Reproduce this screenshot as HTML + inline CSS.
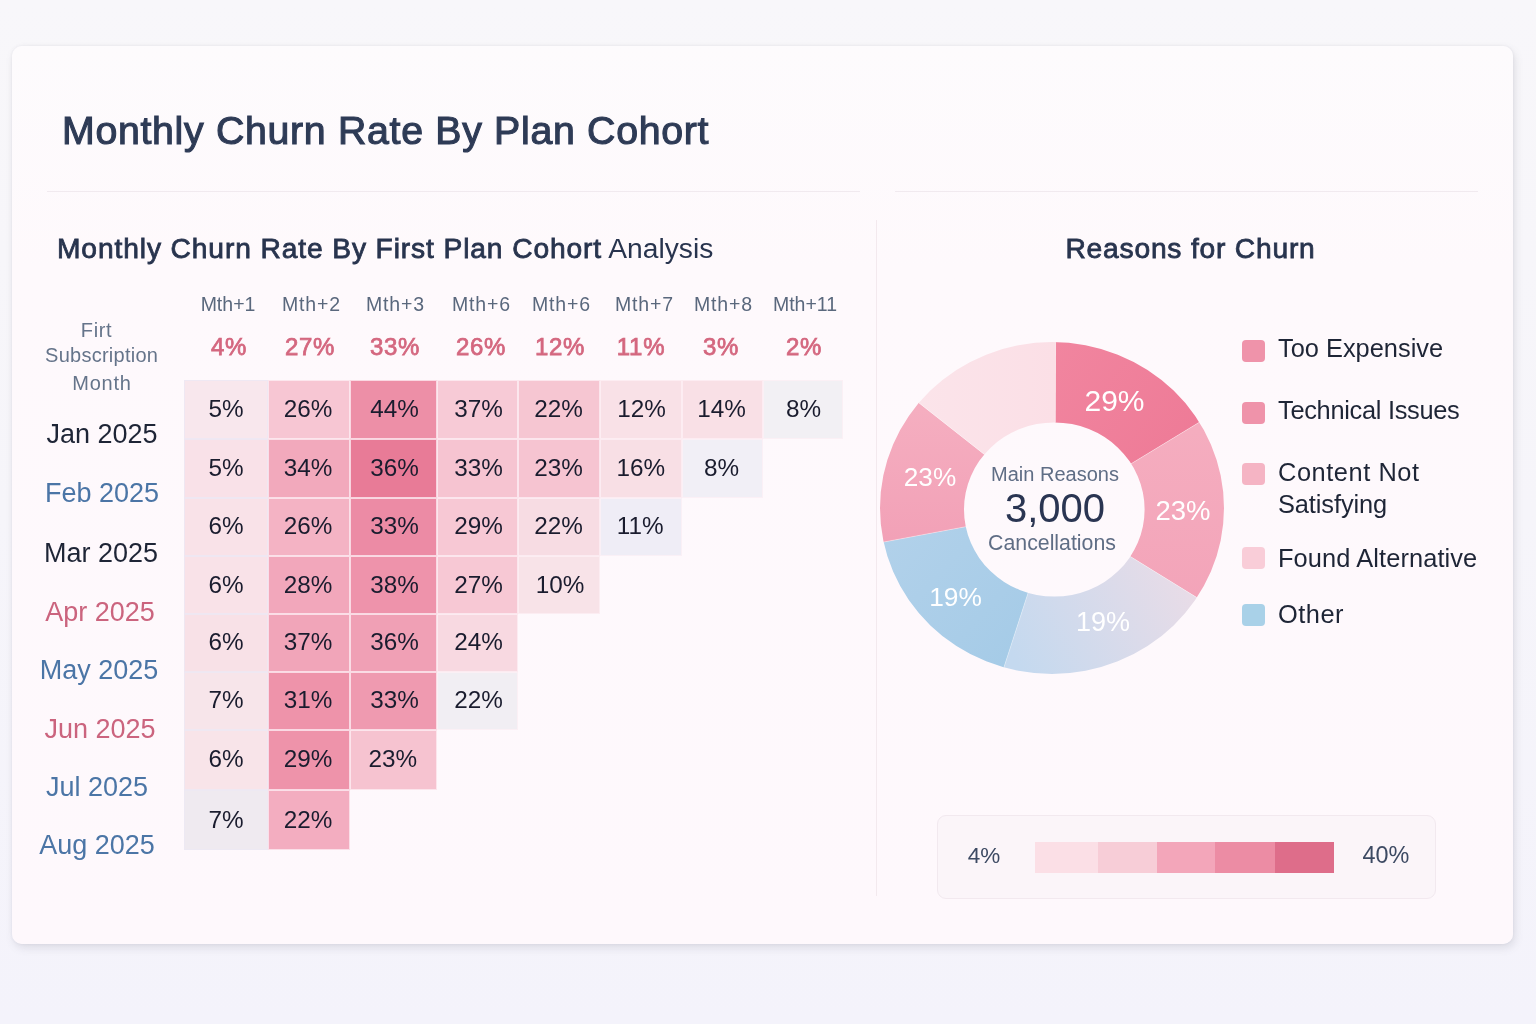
<!DOCTYPE html>
<html lang="en"><head><meta charset="utf-8"><title>Monthly Churn Rate By Plan Cohort</title>
<style>
html,body{margin:0;padding:0}
body{width:1536px;height:1024px;overflow:hidden;position:relative;font-family:"Liberation Sans",sans-serif;
background:linear-gradient(180deg,#f8f7fa 0%,#f6f5fa 50%,#f4f3fb 100%);}
.card{position:absolute;left:12px;top:46px;width:1501px;height:898px;background:linear-gradient(180deg,#fdfbfd 0%,#fef9fc 25%,#fef8fc 100%);border-radius:10px;
box-shadow:2px 4px 9px rgba(100,98,120,.16),0 0 3px rgba(100,98,120,.10);}
.t{position:absolute;transform:translate(-50%,-50%);white-space:nowrap;line-height:1}
.l{position:absolute;transform:translate(0,-50%);white-space:nowrap;line-height:1}
.hr{position:absolute;height:1px;background:#f1eaef}
.vr{position:absolute;width:1px;background:#f3e9ee}
.c{position:absolute;box-sizing:border-box;border:1px solid rgba(254,240,245,.75)}
.c1{border-color:rgba(236,232,244,.8)}
.h{font-size:19.5px;color:#5a687d}
.p{font-size:24px;letter-spacing:.7px;-webkit-text-stroke:.75px #d4677f;color:#d4677f}
.v{font-size:24.3px;color:#1a1c2e}
.r{font-size:27px}
.dk{color:#1e2536}.bl{color:#4b75a6}.pk{color:#cb647e}
.d{font-size:30px;color:#fff}
.sq{position:absolute;width:23px;height:22px;border-radius:4px}
.lg{font-size:25.4px;color:#1e2536}
</style></head><body>
<div class="card"></div>

<div class="l" id="title" style="left:62px;top:130.5px;font-size:39.3px;letter-spacing:.68px;-webkit-text-stroke:1.1px #2e3b56;color:#2e3b56">Monthly Churn Rate By Plan Cohort</div>
<div class="hr" style="left:47px;top:191px;width:813px"></div>
<div class="hr" style="left:895px;top:191px;width:583px"></div>
<div class="vr" style="left:876px;top:220px;height:676px"></div>
<div class="l" id="sub" style="left:57px;top:248px;font-size:28.2px;color:#28344e"><span id="subb" style="letter-spacing:.88px;-webkit-text-stroke:.8px #28344e">Monthly Churn Rate By First Plan Cohort</span> Analysis</div>
<div class="t" id="rfc" style="left:1190.5px;top:248px;font-size:28.2px;letter-spacing:.8px;-webkit-text-stroke:.8px #28344e;color:#28344e">Reasons for Churn</div>
<div class="t h" style="left:228px;top:305px">Mth+1</div>
<div class="t h" style="left:311.5px;top:305px;letter-spacing:.9px">Mth+2</div>
<div class="t h" style="left:395.5px;top:305px;letter-spacing:.9px">Mth+3</div>
<div class="t h" style="left:481.5px;top:305px;letter-spacing:.9px">Mth+6</div>
<div class="t h" style="left:561.5px;top:305px;letter-spacing:.9px">Mth+6</div>
<div class="t h" style="left:644.5px;top:305px;letter-spacing:.9px">Mth+7</div>
<div class="t h" style="left:723.5px;top:305px;letter-spacing:.9px">Mth+8</div>
<div class="t h" style="left:805px;top:305px">Mth+11</div>
<div class="t p" style="left:229px;top:347px">4%</div>
<div class="t p" style="left:310px;top:347px">27%</div>
<div class="t p" style="left:395px;top:347px">33%</div>
<div class="t p" style="left:481px;top:347px">26%</div>
<div class="t p" style="left:560px;top:347px">12%</div>
<div class="t p" style="left:641px;top:347px">11%</div>
<div class="t p" style="left:721px;top:347px">3%</div>
<div class="t p" style="left:804px;top:347px">2%</div>
<div class="t" style="left:96.5px;top:330px;font-size:20px;letter-spacing:0.6px;color:#65748a">Firt</div>
<div class="t" style="left:101.6px;top:355px;font-size:20px;letter-spacing:0.25px;color:#65748a">Subscription</div>
<div class="t" style="left:102px;top:383px;font-size:20px;letter-spacing:0.8px;color:#65748a">Month</div>
<div class="t r dk" style="left:102px;top:434px">Jan 2025</div>
<div class="t r bl" style="left:102px;top:493px">Feb 2025</div>
<div class="t r dk" style="left:101px;top:553px">Mar 2025</div>
<div class="t r pk" style="left:100px;top:612px">Apr 2025</div>
<div class="t r bl" style="left:99px;top:670px">May 2025</div>
<div class="t r pk" style="left:100px;top:729px">Jun 2025</div>
<div class="t r bl" style="left:97px;top:787px">Jul 2025</div>
<div class="t r bl" style="left:97px;top:845px">Aug 2025</div>
<div class="c c1" style="left:184px;top:380px;width:83.5px;height:58.5px;background:#f8e7ed"></div>
<div class="t v" style="left:226px;top:408.8px">5%</div>
<div class="c" style="left:267.5px;top:380px;width:82.5px;height:58.5px;background:#f7c6d3"></div>
<div class="t v" style="left:308px;top:408.8px">26%</div>
<div class="c" style="left:350px;top:380px;width:86.5px;height:58.5px;background:#ed8fa7"></div>
<div class="t v" style="left:394.5px;top:408.8px">44%</div>
<div class="c" style="left:436.5px;top:380px;width:81.5px;height:58.5px;background:#f7cad6"></div>
<div class="t v" style="left:478.5px;top:408.8px">37%</div>
<div class="c" style="left:518px;top:380px;width:82px;height:58.5px;background:#f6c6d2"></div>
<div class="t v" style="left:558.5px;top:408.8px">22%</div>
<div class="c" style="left:600px;top:380px;width:82px;height:58.5px;background:#f9e1e7"></div>
<div class="t v" style="left:641.5px;top:408.8px">12%</div>
<div class="c" style="left:682px;top:380px;width:80.5px;height:58.5px;background:#f9e0e6"></div>
<div class="t v" style="left:721.5px;top:408.8px">14%</div>
<div class="c" style="left:762.5px;top:380px;width:80.5px;height:58.5px;background:#f2f0f4"></div>
<div class="t v" style="left:803.5px;top:408.8px">8%</div>
<div class="c c1" style="left:184px;top:438.5px;width:83.5px;height:59.0px;background:#f9e1e8"></div>
<div class="t v" style="left:226px;top:467.5px">5%</div>
<div class="c" style="left:267.5px;top:438.5px;width:82.5px;height:59.0px;background:#f2a9bc"></div>
<div class="t v" style="left:308px;top:467.5px">34%</div>
<div class="c" style="left:350px;top:438.5px;width:86.5px;height:59.0px;background:#e87b97"></div>
<div class="t v" style="left:394.5px;top:467.5px">36%</div>
<div class="c" style="left:436.5px;top:438.5px;width:81.5px;height:59.0px;background:#f6c4d1"></div>
<div class="t v" style="left:478.5px;top:467.5px">33%</div>
<div class="c" style="left:518px;top:438.5px;width:82px;height:59.0px;background:#f6c4d1"></div>
<div class="t v" style="left:558.5px;top:467.5px">23%</div>
<div class="c" style="left:600px;top:438.5px;width:82px;height:59.0px;background:#f8dfe5"></div>
<div class="t v" style="left:640.8px;top:467.5px">16%</div>
<div class="c" style="left:682px;top:438.5px;width:80.5px;height:59.0px;background:#f1eff6"></div>
<div class="t v" style="left:721.5px;top:467.5px">8%</div>
<div class="c c1" style="left:184px;top:497.5px;width:83.5px;height:58.5px;background:#f9e2e8"></div>
<div class="t v" style="left:226px;top:526.2px">6%</div>
<div class="c" style="left:267.5px;top:497.5px;width:82.5px;height:58.5px;background:#f4b3c4"></div>
<div class="t v" style="left:308px;top:526.2px">26%</div>
<div class="c" style="left:350px;top:497.5px;width:86.5px;height:58.5px;background:#ec8ba5"></div>
<div class="t v" style="left:394.5px;top:526.2px">33%</div>
<div class="c" style="left:436.5px;top:497.5px;width:81.5px;height:58.5px;background:#f7c8d4"></div>
<div class="t v" style="left:478.5px;top:526.2px">29%</div>
<div class="c" style="left:518px;top:497.5px;width:82px;height:58.5px;background:#f7dce3"></div>
<div class="t v" style="left:558.5px;top:526.2px">22%</div>
<div class="c" style="left:600px;top:497.5px;width:82px;height:58.5px;background:#efedf6"></div>
<div class="t v" style="left:640.2px;top:526.2px">11%</div>
<div class="c c1" style="left:184px;top:556px;width:83.5px;height:58px;background:#f9e2e8"></div>
<div class="t v" style="left:226px;top:584.5px">6%</div>
<div class="c" style="left:267.5px;top:556px;width:82.5px;height:58px;background:#f2a7bb"></div>
<div class="t v" style="left:308px;top:584.5px">28%</div>
<div class="c" style="left:350px;top:556px;width:86.5px;height:58px;background:#ee93ab"></div>
<div class="t v" style="left:394.5px;top:584.5px">38%</div>
<div class="c" style="left:436.5px;top:556px;width:81.5px;height:58px;background:#f7c8d4"></div>
<div class="t v" style="left:478.5px;top:584.5px">27%</div>
<div class="c" style="left:518px;top:556px;width:82px;height:58px;background:#f8e3e8"></div>
<div class="t v" style="left:560.0px;top:584.5px">10%</div>
<div class="c c1" style="left:184px;top:614px;width:83.5px;height:57.5px;background:#f8e1e7"></div>
<div class="t v" style="left:226px;top:642.2px">6%</div>
<div class="c" style="left:267.5px;top:614px;width:82.5px;height:57.5px;background:#f1a5b9"></div>
<div class="t v" style="left:308px;top:642.2px">37%</div>
<div class="c" style="left:350px;top:614px;width:86.5px;height:57.5px;background:#f0a0b5"></div>
<div class="t v" style="left:394.5px;top:642.2px">36%</div>
<div class="c" style="left:436.5px;top:614px;width:81.5px;height:57.5px;background:#f8d9e1"></div>
<div class="t v" style="left:478.5px;top:642.2px">24%</div>
<div class="c c1" style="left:184px;top:671.5px;width:83.5px;height:58.5px;background:#f7e5ea"></div>
<div class="t v" style="left:226px;top:700.2px">7%</div>
<div class="c" style="left:267.5px;top:671.5px;width:82.5px;height:58.5px;background:#ee93aa"></div>
<div class="t v" style="left:308px;top:700.2px">31%</div>
<div class="c" style="left:350px;top:671.5px;width:86.5px;height:58.5px;background:#ef9ab0"></div>
<div class="t v" style="left:394.5px;top:700.2px">33%</div>
<div class="c" style="left:436.5px;top:671.5px;width:81.5px;height:58.5px;background:#f1eef3"></div>
<div class="t v" style="left:478.5px;top:700.2px">22%</div>
<div class="c c1" style="left:184px;top:730px;width:83.5px;height:59.5px;background:#f8e4e9"></div>
<div class="t v" style="left:226px;top:759.2px">6%</div>
<div class="c" style="left:267.5px;top:730px;width:82.5px;height:59.5px;background:#ee93aa"></div>
<div class="t v" style="left:308px;top:759.2px">29%</div>
<div class="c" style="left:350px;top:730px;width:86.5px;height:59.5px;background:#f6c3d0"></div>
<div class="t v" style="left:392.8px;top:759.2px">23%</div>
<div class="c c1" style="left:184px;top:789.5px;width:83.5px;height:60.5px;background:#efeaf0"></div>
<div class="t v" style="left:226px;top:820.2px">7%</div>
<div class="c" style="left:267.5px;top:789.5px;width:82.5px;height:60.5px;background:#f3adc0"></div>
<div class="t v" style="left:308px;top:820.2px">22%</div>
<svg style="position:absolute;left:0;top:0" width="1536" height="1024" viewBox="0 0 1536 1024">
<defs>
<linearGradient id="g1" gradientUnits="userSpaceOnUse" x1="1056" y1="342" x2="1190" y2="440"><stop offset="0" stop-color="#f1859f"/><stop offset="1" stop-color="#ee7b97"/></linearGradient>
<linearGradient id="g2" gradientUnits="userSpaceOnUse" x1="1180" y1="430" x2="1180" y2="600"><stop offset="0" stop-color="#f5adbf"/><stop offset="1" stop-color="#f3a4b9"/></linearGradient>
<linearGradient id="g3" gradientUnits="userSpaceOnUse" x1="1190" y1="580" x2="1020" y2="670"><stop offset="0" stop-color="#e9dce7"/><stop offset="1" stop-color="#c4d9ef"/></linearGradient>
<linearGradient id="g4" gradientUnits="userSpaceOnUse" x1="890" y1="540" x2="1020" y2="660"><stop offset="0" stop-color="#b1d1ea"/><stop offset="1" stop-color="#a5cbe7"/></linearGradient>
<linearGradient id="g5" gradientUnits="userSpaceOnUse" x1="930" y1="410" x2="930" y2="540"><stop offset="0" stop-color="#f5aec0"/><stop offset="1" stop-color="#f2a1b7"/></linearGradient>
<linearGradient id="g6" gradientUnits="userSpaceOnUse" x1="920" y1="400" x2="1056" y2="400"><stop offset="0" stop-color="#fbe4ea"/><stop offset="1" stop-color="#fbdfe6"/></linearGradient>
<clipPath id="ring"><path clip-rule="evenodd" d="M880 508a172 166 0 1 0 344 0a172 166 0 1 0 -344 0ZM964 509.5a90.3 87 0 1 0 180.6 0a90.3 87 0 1 0 -180.6 0Z"/></clipPath>
</defs>
<g clip-path="url(#ring)">
<polygon points="1055.0,510.0 1055.9,250.0 1099.9,253.9 1142.6,265.2 1182.8,283.6 1219.3,308.5 1251.1,339.3 1277.2,374.9" fill="url(#g1)"/>
<polygon points="1055.0,510.0 1277.2,374.9 1298.1,417.7 1310.8,463.5 1315.0,510.9 1310.5,558.3 1297.4,604.0 1276.2,646.6" fill="url(#g2)"/>
<polygon points="1055.0,510.0 1276.2,646.6 1240.7,692.0 1196.1,728.4 1144.6,754.1 1088.6,767.8 1031.1,768.9 974.7,757.3" fill="url(#g3)"/>
<polygon points="1055.0,510.0 974.7,757.3 932.0,739.1 893.3,713.6 859.7,681.6 832.3,644.2 812.0,602.5 799.4,557.8" fill="url(#g4)"/>
<polygon points="1055.0,510.0 799.4,557.8 795.2,521.2 796.3,484.3 802.5,448.0 813.8,412.9 830.0,379.7 850.7,349.2" fill="url(#g5)"/>
<polygon points="1055.0,510.0 850.7,349.2 877.2,320.3 907.9,295.6 941.8,275.9 978.4,261.5 1016.7,252.8 1055.9,250.0" fill="url(#g6)"/>
<line x1="1055" y1="510" x2="1055.9" y2="250.0" stroke="#fff" stroke-opacity=".35" stroke-width="1"/>
<line x1="1055" y1="510" x2="1277.2" y2="374.9" stroke="#fff" stroke-opacity=".35" stroke-width="1"/>
<line x1="1055" y1="510" x2="1276.2" y2="646.6" stroke="#fff" stroke-opacity=".35" stroke-width="1"/>
<line x1="1055" y1="510" x2="974.7" y2="757.3" stroke="#fff" stroke-opacity=".35" stroke-width="1"/>
<line x1="1055" y1="510" x2="799.4" y2="557.8" stroke="#fff" stroke-opacity=".35" stroke-width="1"/>
<line x1="1055" y1="510" x2="850.7" y2="349.2" stroke="#fff" stroke-opacity=".35" stroke-width="1"/>
</g>
</svg>
<div class="t d" style="left:1114.5px;top:400.5px;font-size:30px">29%</div>
<div class="t d" style="left:1183px;top:511px;font-size:27.5px">23%</div>
<div class="t d" style="left:1103px;top:621.5px;font-size:27px">19%</div>
<div class="t d" style="left:955.5px;top:596.5px;font-size:26.3px">19%</div>
<div class="t d" style="left:930px;top:477px;font-size:26.2px">23%</div>
<div class="t" style="left:1055px;top:474px;font-size:20px;color:#5f6d85">Main Reasons</div>
<div class="t" style="left:1055px;top:508px;font-size:40px;color:#2a3552">3,000</div>
<div class="t" style="left:1052px;top:543.5px;font-size:21.3px;color:#5f6d85">Cancellations</div>
<div class="sq" style="left:1242px;top:340px;background:#ef93aa"></div>
<div class="sq" style="left:1242px;top:402px;background:#ef93aa"></div>
<div class="sq" style="left:1242px;top:462.5px;background:#f5b4c4"></div>
<div class="sq" style="left:1242px;top:547px;background:#f9cdd8"></div>
<div class="sq" style="left:1242px;top:604px;background:#a9d1e8"></div>
<div class="l lg" style="left:1278px;top:349.3px;letter-spacing:0px">Too Expensive</div>
<div class="l lg" style="left:1278px;top:410.8px;letter-spacing:-0.3px">Technical Issues</div>
<div class="l lg" style="left:1278px;top:473px;letter-spacing:0.55px">Content Not</div>
<div class="l lg" style="left:1278px;top:504.8px;letter-spacing:-0.1px">Satisfying</div>
<div class="l lg" style="left:1278px;top:559px;letter-spacing:0.1px">Found Alternative</div>
<div class="l lg" style="left:1278px;top:615px;letter-spacing:0.5px">Other</div>
<div style="position:absolute;left:937px;top:815px;width:499px;height:84px;box-sizing:border-box;border:1.5px solid #f2e9ef;border-radius:9px;background:#fbf5f9"></div>
<div class="t" style="left:984px;top:855.8px;font-size:22.5px;color:#3d4a63">4%</div>
<div class="t" style="left:1386px;top:855.5px;font-size:23.4px;color:#3d4a63">40%</div>
<div style="position:absolute;left:1034.5px;top:842px;width:63.5px;height:31px;background:#fbdfe6"></div>
<div style="position:absolute;left:1098px;top:842px;width:59px;height:31px;background:#f7cdd7"></div>
<div style="position:absolute;left:1157px;top:842px;width:58px;height:31px;background:#f3a6ba"></div>
<div style="position:absolute;left:1215px;top:842px;width:60px;height:31px;background:#ec8ca4"></div>
<div style="position:absolute;left:1275px;top:842px;width:59px;height:31px;background:#de6d8a"></div>
</body></html>
